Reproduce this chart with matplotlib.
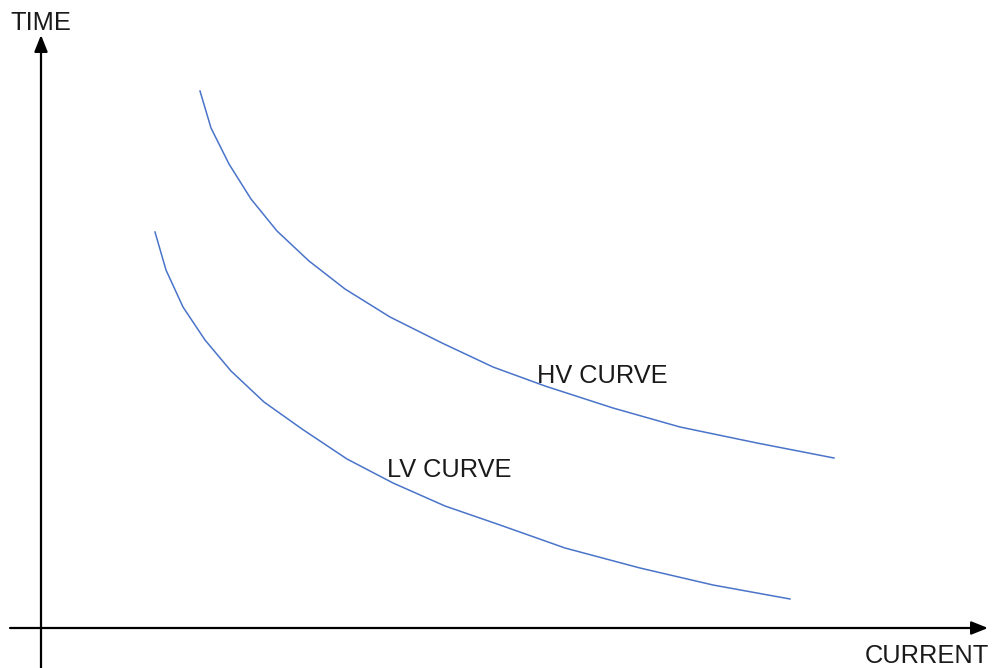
import matplotlib
matplotlib.use("Agg")
import matplotlib.pyplot as plt

# Time-current characteristic curves (arbitrary units, origin at the axes' crossing)
hv_current = [159, 170, 188, 210, 236, 268, 304, 349, 401, 452, 504, 572, 639, 716, 793]
hv_time = [537, 500, 464, 429, 397, 367, 339, 311, 285, 261, 242, 220, 201, 185, 170]

lv_current = [114, 125, 142, 164, 190, 223, 261, 306, 352, 404, 459, 524, 599, 672, 749]
lv_time = [396, 358, 321, 288, 257, 226, 199, 169, 145, 122, 103, 80, 60, 43, 29]

x_label = "CURRENT"
y_label = "TIME"
hv_label = "HV CURVE"
lv_label = "LV CURVE"

plt.rcParams['font.family'] = ['Liberation Sans', 'DejaVu Sans']

fig = plt.figure(figsize=(9.99, 6.68), dpi=100)
ax = fig.add_axes([0, 0, 1, 1])
ax.set_xlim(-41, 958)
ax.set_ylim(-40, 628)
ax.axis("off")

curve_color = "#4a74c9"
ax.plot(hv_current, hv_time, color=curve_color, lw=1.1)
ax.plot(lv_current, lv_time, color=curve_color, lw=1.1)

# Axes drawn as arrows
arrow = dict(arrowstyle="-|>,head_length=1.0,head_width=0.4", color="black",
             lw=1.6, shrinkA=0, shrinkB=0)
ax.annotate("", xy=(0, 593), xytext=(0, -40), arrowprops=arrow)
ax.annotate("", xy=(947, 0), xytext=(-31, 0), arrowprops=arrow)

txt = dict(fontsize=18.3, color="#1a1a1a", ha="left", va="baseline")
ax.text(-31, 598, y_label, **txt)
ax.text(824, -35, x_label, **txt)
ax.text(496, 245, hv_label, **txt)
ax.text(346, 151, lv_label, **txt)

fig.savefig("out.png", dpi=100, facecolor="white")
